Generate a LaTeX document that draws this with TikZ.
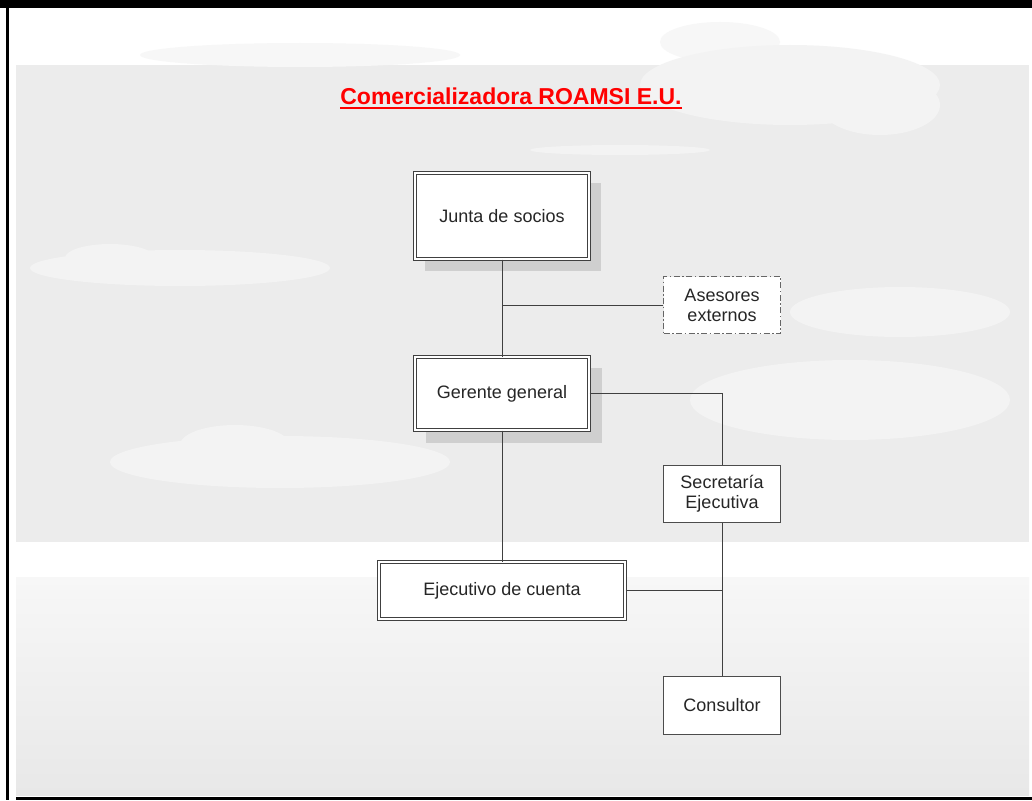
\documentclass[tikz,border=0pt]{standalone}
\usepackage{fontspec}
\setmainfont{Liberation Sans}
\usetikzlibrary{calc}
\definecolor{bgA}{HTML}{ECECEC}
\definecolor{bgB}{HTML}{F7F7F7}
\definecolor{bgC}{HTML}{E8E8E8}
\definecolor{shade}{HTML}{CFCFCF}
\definecolor{cloud}{HTML}{F3F3F3}
\definecolor{cloudtop}{HTML}{F7F7F7}
\definecolor{titlered}{HTML}{FF0000}
\tikzset{
  x=1pt, y=-1pt,
  boxfont/.style={font=\fontsize{18}{21}\selectfont, text=black!85},
  dblbox/.style={boxfont, draw=black!75, line width=1pt, double=white, double distance=2pt, fill=white, inner sep=0pt},
  plainbox/.style={boxfont, draw=black!70, line width=1pt, fill=white, align=center, inner sep=0pt},
  dashbox/.style={boxfont, draw=black!60, line width=1.1pt, dash pattern=on 6pt off 2.5pt on 1.5pt off 2.5pt, fill=white, align=center, inner sep=0pt},
  conn/.style={draw=black!75, line width=1pt},
  boxshadow/.style={fill=shade, draw=none},
}
\begin{document}
\begin{tikzpicture}
\useasboundingbox (0,0) rectangle (1032,800);
\fill[white] (0,0) rectangle (1032,800);
% background bands
\fill[bgA] (16,65) rectangle (1029,542);
\shade[top color=bgB, bottom color=bgC] (16,577) rectangle (1029,795);
% clouds (faint)
\fill[cloudtop] (300,55) ellipse (160 and 12);
\fill[cloudtop] (720,42) ellipse (60 and 20);
\fill[cloud] (790,85) ellipse (150 and 40);
\fill[cloud] (880,105) ellipse (60 and 30);
\fill[cloud] (180,268) ellipse (150 and 18);
\fill[cloud] (110,258) ellipse (45 and 14);
\fill[cloud] (900,312) ellipse (110 and 25);
\fill[cloud] (850,400) ellipse (160 and 40);
\fill[cloud] (280,462) ellipse (170 and 26);
\fill[cloud] (235,445) ellipse (55 and 20);
\fill[cloud] (620,150) ellipse (90 and 5);
% frame
\fill[black] (0,0) rectangle (1032,8);
\fill[black] (6,0) rectangle (8.5,800);
\fill[black] (16,797) rectangle (1032,800);
% title
\node[font=\fontsize{23}{27}\selectfont\bfseries, text=titlered, inner sep=0pt] (title) at (511,96) {Comercializadora ROAMSI E.U.};
\draw[titlered, line width=1.8pt] ($(title.south west)+(0,3)$) -- ($(title.south east)+(0,3)$);
% shadows
\fill[boxshadow] (425,183) rectangle (601,271);
\fill[boxshadow] (426,368) rectangle (602,443);
% nodes
\node[dblbox, minimum width=174pt, minimum height=86pt] (junta) at (502,216) {Junta de socios};
\node[dashbox, minimum width=117pt, minimum height=57pt] (asesores) at (722,305) {Asesores\\[-1pt]externos};
\node[dblbox, minimum width=174pt, minimum height=73pt] (gerente) at (502,393.5) {Gerente general};
\node[plainbox, minimum width=117pt, minimum height=57pt] (secre) at (722,494) {Secretaría\\[-1pt]Ejecutiva};
\node[dblbox, minimum width=246pt, minimum height=57pt] (ejec) at (502,590.5) {Ejecutivo de cuenta};
\node[plainbox, minimum width=117pt, minimum height=58pt] (consul) at (722,705.5) {Consultor};
% connectors
\coordinate (jb) at (502,305);
\coordinate (gs) at (722,393.5);
\coordinate (es) at (722,590.5);
\draw[conn] (junta.south) -- (gerente.north);
\draw[conn] (jb) -- (asesores.west);
\draw[conn] (gerente.east) -- (gs) -- (secre.north);
\draw[conn] (gerente.south) -- (ejec.north);
\draw[conn] (secre.south) -- (consul.north);
\draw[conn] (ejec.east) -- (es);
\end{tikzpicture}
\end{document}
